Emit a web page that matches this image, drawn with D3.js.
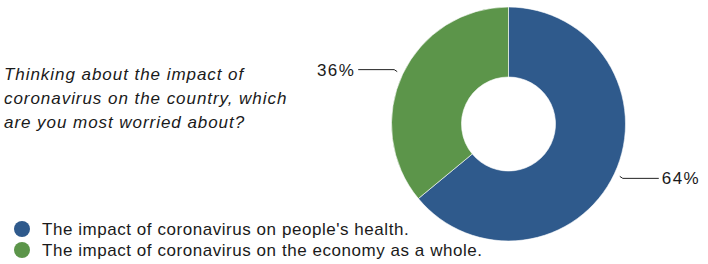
<!DOCTYPE html>
<html>
<head>
<meta charset="utf-8">
<script src="https://cdn.jsdelivr.net/npm/d3@7"></script>
<style>
  body { margin: 0; background: #fff; }
  text { font-family: "Liberation Sans", Arial, sans-serif; fill: #1a1a1a; }
</style>
</head>
<body>
<div id="chart"></div>
<script>
// Data
var categories = ["The impact of coronavirus on people's health.", "The impact of coronavirus on the economy as a whole."];
var values = [64, 36];
var valueLabels = ["64%", "36%"];
var colors = ["#2f5a8c", "#5c954a"];
var questionLines = ["Thinking about the impact of", "coronavirus on the country, which", "are you most worried about?"];

// Layout
var attrs = {
  svgWidth: 708,
  svgHeight: 264,
  cx: 508.5,
  cy: 124,
  outerRadius: 117,
  innerRadius: 47,
  leaderRadius: 123,
  leaderLength: 36,
  fontSize: 17
};

var svg = d3.select('#chart').append('svg')
  .attr('width', attrs.svgWidth)
  .attr('height', attrs.svgHeight);

// question text
svg.append('g')
  .selectAll('text')
  .data(questionLines)
  .enter().append('text')
  .attr('x', 4)
  .attr('y', function (d, i) { return 80 + i * 24; })
  .attr('font-size', attrs.fontSize)
  .attr('font-style', 'italic')
  .attr('letter-spacing', 0.95)
  .text(function (d) { return d; });

// pie
var pie = d3.pie().sort(null).value(function (d) { return d; })(values);
var arc = d3.arc().innerRadius(attrs.innerRadius).outerRadius(attrs.outerRadius);

var chart = svg.append('g')
  .attr('transform', 'translate(' + attrs.cx + ',' + attrs.cy + ')');

chart.selectAll('path.slice')
  .data(pie)
  .enter().append('path')
  .attr('class', 'slice')
  .attr('d', arc)
  .attr('fill', function (d, i) { return colors[i]; })
  .attr('stroke', '#fff')
  .attr('stroke-width', 0.6);

// leader lines + labels
function midAngle(d) { return (d.startAngle + d.endAngle) / 2; }

var labels = chart.selectAll('g.label')
  .data(pie)
  .enter().append('g')
  .attr('class', 'label');

labels.append('path')
  .attr('fill', 'none')
  .attr('stroke', '#222')
  .attr('stroke-width', 1)
  .attr('d', function (d) {
    var a = midAngle(d);
    var x0 = Math.sin(a) * attrs.leaderRadius;
    var y0 = -Math.cos(a) * attrs.leaderRadius;
    var dir = x0 > 0 ? 1 : -1;
    var x1 = x0 + dir * 3;
    var y1 = y0 + (dir > 0 ? 2 : -2);
    var x2 = x1 + dir * attrs.leaderLength;
    return 'M' + x0 + ',' + y0 + 'L' + x1 + ',' + y1 + 'L' + x2 + ',' + y1;
  });

labels.append('text')
  .attr('font-size', attrs.fontSize)
  .attr('letter-spacing', 1.4)
  .attr('dy', '0.35em')
  .attr('text-anchor', function (d) { return Math.sin(midAngle(d)) > 0 ? 'start' : 'end'; })
  .attr('x', function (d) {
    var a = midAngle(d);
    var dir = Math.sin(a) > 0 ? 1 : -1;
    return Math.sin(a) * attrs.leaderRadius + dir * (3 + attrs.leaderLength + 3);
  })
  .attr('y', function (d) {
    var a = midAngle(d);
    var dir = Math.sin(a) > 0 ? 1 : -1;
    return -Math.cos(a) * attrs.leaderRadius + (dir > 0 ? 2 : -2);
  })
  .text(function (d, i) { return valueLabels[i]; });

// legend
var legend = svg.append('g')
  .selectAll('g')
  .data(categories)
  .enter().append('g')
  .attr('transform', function (d, i) { return 'translate(22,' + (229 + i * 21) + ')'; });

legend.append('circle')
  .attr('r', 8)
  .attr('fill', function (d, i) { return colors[i]; });

legend.append('text')
  .attr('x', 20)
  .attr('dy', '0.35em')
  .attr('font-size', attrs.fontSize)
  .attr('letter-spacing', 0.55)
  .text(function (d) { return d; });
</script>
</body>
</html>
